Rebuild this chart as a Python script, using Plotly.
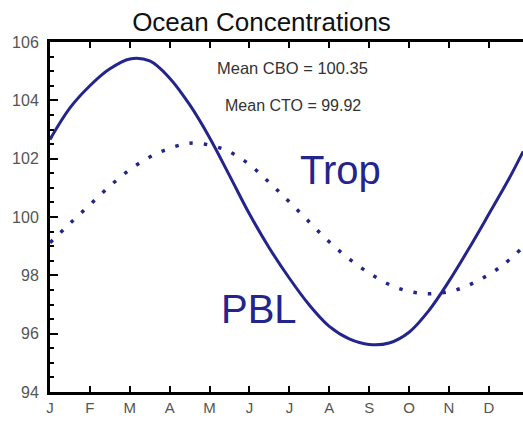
import plotly.graph_objects as go

# ---- data ----
month_labels = ["J", "F", "M", "A", "M", "J", "J", "A", "S", "O", "N", "D"]
month_ticks = list(range(12))

pbl_month = [0.0, 0.5, 1.0, 1.5, 2.0, 2.5, 3.0, 3.5, 4.0, 4.5, 5.0, 5.5, 6.0, 6.5, 7.0,
             7.5, 8.0, 8.5, 9.0, 9.5, 10.0, 10.5, 11.0, 11.5, 11.86]
pbl_value = [102.66, 103.74, 104.50, 105.08, 105.42, 105.35, 104.76, 103.85, 102.72, 101.42,
             100.10, 98.93, 97.90, 96.98, 96.25, 95.82, 95.63, 95.68, 96.05, 96.80, 97.80,
             98.92, 100.10, 101.30, 102.25]

trop_month = [0.0, 0.5, 1.03, 1.55, 2.08, 2.68, 3.33, 3.68, 4.36, 4.96, 5.49, 5.99, 6.49,
              6.99, 7.52, 8.10, 8.70, 9.40, 10.10, 10.73, 11.33, 11.86]
trop_value = [99.12, 99.78, 100.46, 101.12, 101.70, 102.18, 102.49, 102.53, 102.32, 101.84,
              101.19, 100.53, 99.84, 99.16, 98.54, 97.99, 97.57, 97.37, 97.47, 97.82, 98.33,
              98.97]

mean_cbo = 100.35
mean_cto = 99.92

NAVY = "#23248c"
FONT = "Liberation Sans, Arial, Helvetica, sans-serif"

fig = go.Figure()
fig.add_trace(go.Scatter(x=pbl_month, y=pbl_value, mode="lines", line_shape="spline",
                         line=dict(color=NAVY, width=3), hoverinfo="skip", showlegend=False))
fig.add_trace(go.Scatter(x=trop_month, y=trop_value, mode="lines", line_shape="spline",
                         line=dict(color=NAVY, width=3.5, dash="3.5px,11px"),
                         hoverinfo="skip", showlegend=False))

annots = [
    dict(x=7.27, y=101.6, text="Trop", font=dict(size=40, color=NAVY)),
    dict(x=5.24, y=96.83, text="PBL", font=dict(size=40, color=NAVY)),
    dict(x=6.09, y=105.1, text=f"Mean CBO = {mean_cbo:.2f}", font=dict(size=16.5, color="#333333")),
    dict(x=6.09, y=103.84, text=f"Mean CTO = {mean_cto:.2f}", font=dict(size=16, color="#333333")),
]
for a in annots:
    fig.add_annotation(xref="x", yref="y", showarrow=False, xanchor="center", yanchor="middle", **a)

fig.update_layout(
    width=523, height=421, autosize=False,
    margin=dict(l=50, r=0, t=42, b=29),
    paper_bgcolor="white", plot_bgcolor="white",
    font=dict(family=FONT),
    title=dict(text="Ocean Concentrations", x=0.5, xanchor="center", y=1 - 22 / 421,
               yanchor="middle", font=dict(size=26, color="#111111")),
    xaxis=dict(range=[0, 11.855], tickmode="array", tickvals=month_ticks, ticktext=month_labels,
               showgrid=False, zeroline=False, showline=True, linecolor="black", linewidth=3,
               mirror="ticks", ticks="inside", ticklen=6, tickwidth=2, tickcolor="black",
               tickfont=dict(size=15, color="#555555")),
    yaxis=dict(range=[94, 106], tickmode="array", tickvals=[94, 96, 98, 100, 102, 104, 106],
               showgrid=False, zeroline=False, showline=True, linecolor="black", linewidth=3,
               ticks="inside", ticklen=8, tickwidth=2, tickcolor="black",
               minor=dict(dtick=0.5, ticks="inside", ticklen=4, tickwidth=1.5, tickcolor="black"),
               ticklabelstandoff=5,
               tickfont=dict(size=16, color="#555555")),
)

fig.write_html("out.html")
